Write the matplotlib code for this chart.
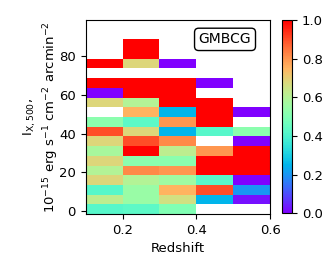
import numpy as np
import matplotlib
matplotlib.use("Agg")
import matplotlib.pyplot as plt

# bin edges (redshift, intensity)
z_edges = [0.1, 0.2, 0.3, 0.4, 0.5, 0.6]
i_edges = [-1.5 + 5 * k for k in range(19)]

# cell values, one row per intensity bin from the bottom; nan = empty
n = np.nan
rows = [
    [0.42, 0.43, 0.50, n, n],
    [0.62, 0.55, 0.66, 0.25, 0.02],
    [0.42, 0.55, 0.75, 0.90, 0.20],
    [0.68, 0.60, 0.56, 0.42, 0.00],
    [0.60, 0.82, 0.80, 1.00, 1.00],
    [0.68, 0.52, 0.52, 1.00, 1.00],
    [0.58, 1.00, 0.62, 0.80, 1.00],
    [0.68, 0.90, 0.82, n, 0.00],
    [0.90, 0.68, 0.25, 0.42, 0.52],
    [0.52, 0.43, 0.80, 1.00, n],
    [n, 0.75, 0.25, 1.00, 0.00],
    [0.68, 0.60, 1.00, 1.00, n],
    [0.00, 1.00, 1.00, n, n],
    [1.00, 1.00, 1.00, 0.00, n],
    [n, n, n, n, n],
    [1.00, 0.68, 0.00, n, n],
    [n, 1.00, n, n, n],
    [n, 1.00, n, n, n],
]
vals = np.ma.masked_invalid(np.array(rows))

fs = 9.5
fig = plt.figure(figsize=(3.32, 2.66), dpi=100)
ax = fig.add_axes([0.258, 0.195, 0.556, 0.73])
cax = fig.add_axes([0.850, 0.198, 0.030, 0.726])

mesh = ax.pcolormesh(z_edges, i_edges, vals, cmap="rainbow", vmin=0, vmax=1)
ax.set_xlim(0.1, 0.6)
ax.set_ylim(-1.5, 98.5)
ax.set_xticks([0.2, 0.4, 0.6])
ax.set_yticks([0, 20, 40, 60, 80])
ax.tick_params(labelsize=fs)
ax.set_xlabel("Redshift", fontsize=fs)
ax.set_ylabel("I$_{\\rm X, 500}$,\n$10^{-15}$ erg s$^{-1}$ cm$^{-2}$ arcmin$^{-2}$",
              fontsize=fs)
ax.yaxis.set_label_coords(-0.135, 0.5)

ax.text(0.755, 0.90, "GMBCG", transform=ax.transAxes, fontsize=10,
        ha="center", va="center",
        bbox=dict(boxstyle="round", fc="white", ec="black"))

cb = fig.colorbar(mesh, cax=cax)
cb.set_ticks([0.0, 0.2, 0.4, 0.6, 0.8, 1.0])
cb.ax.tick_params(labelsize=fs)

fig.savefig("out.png", dpi=100)
